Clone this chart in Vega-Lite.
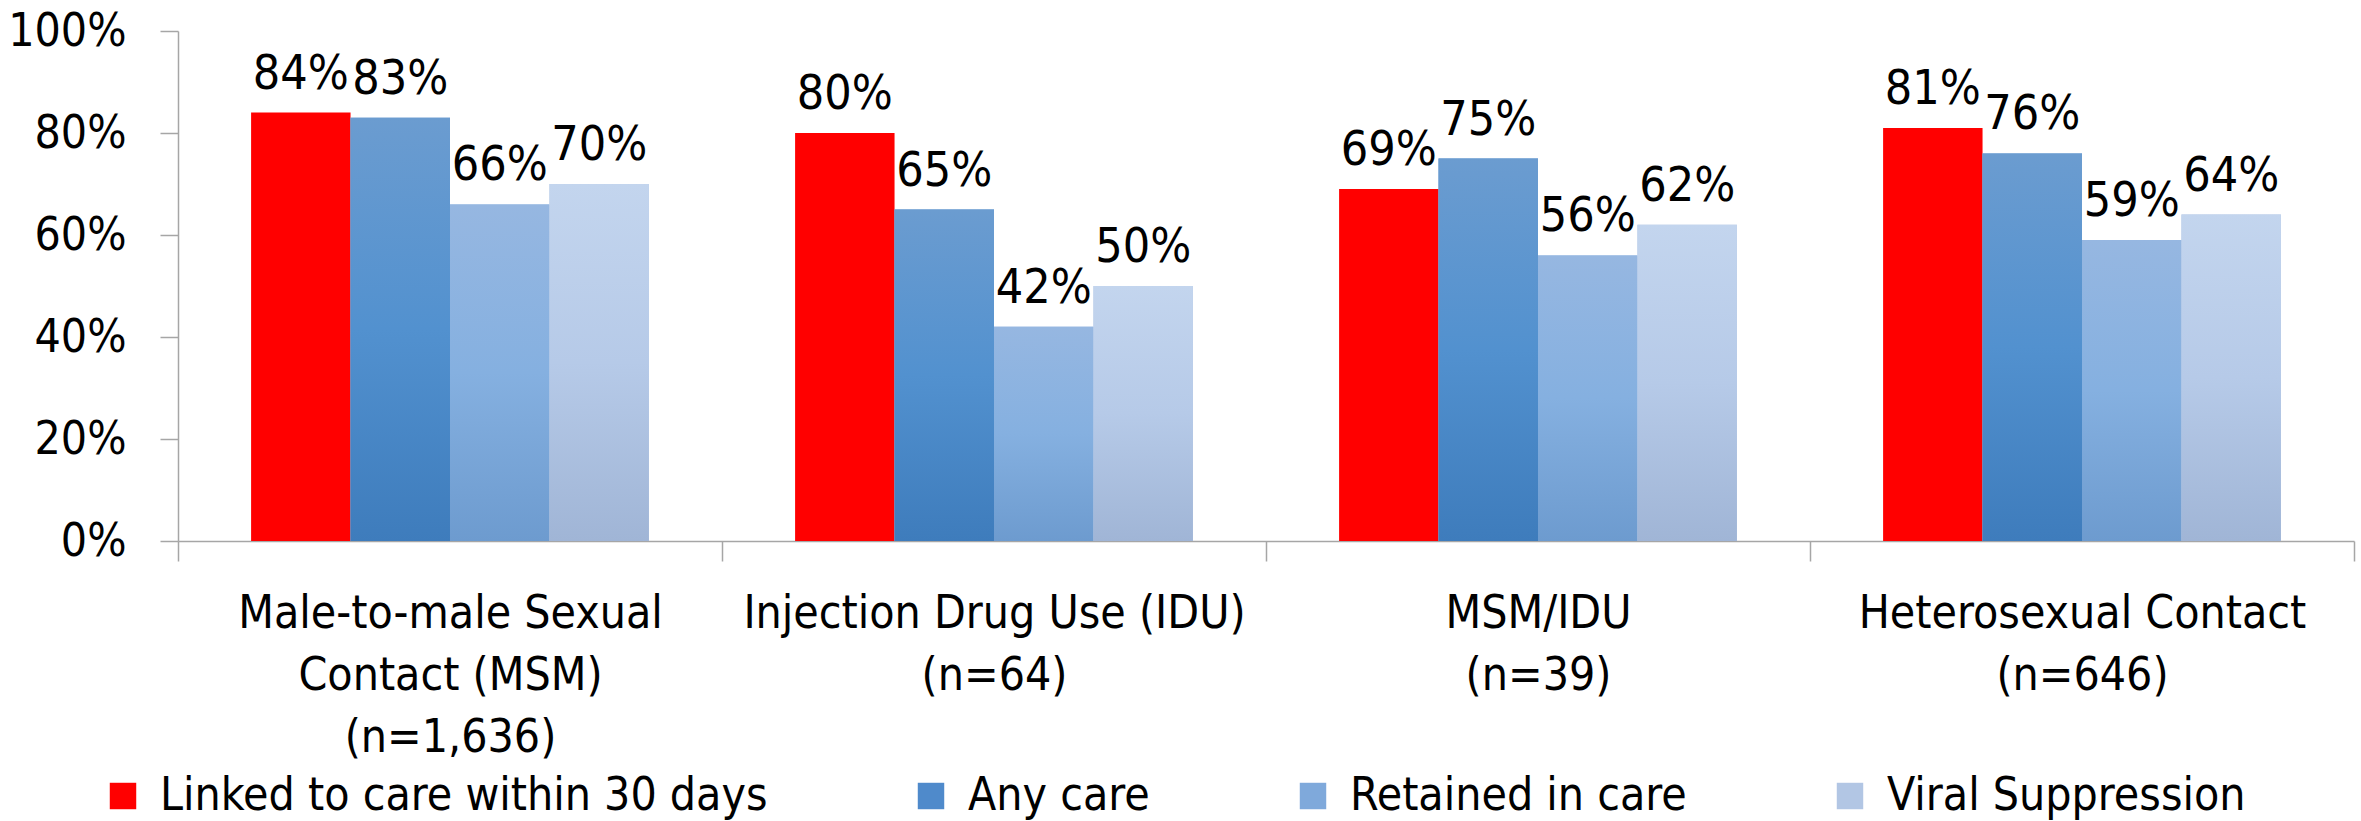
{
  "$schema": "https://vega.github.io/schema/vega-lite/v6.json",
  "width": 2176,
  "height": 510,
  "autosize": {"type": "none"},
  "padding": {"left": 178, "top": 31, "right": 7, "bottom": 280},
  "background": "white",
  "config": {
    "font": "'DejaVu Sans Condensed', 'Open Sans', sans-serif",
    "view": {"stroke": null}
  },
  "data": {
    "values": [
      {"group": "Male-to-male Sexual\nContact (MSM)\n(n=1,636)", "series": "Linked to care within 30 days", "value": 0.84},
      {"group": "Male-to-male Sexual\nContact (MSM)\n(n=1,636)", "series": "Any care", "value": 0.83},
      {"group": "Male-to-male Sexual\nContact (MSM)\n(n=1,636)", "series": "Retained in care", "value": 0.66},
      {"group": "Male-to-male Sexual\nContact (MSM)\n(n=1,636)", "series": "Viral Suppression", "value": 0.70},
      {"group": "Injection Drug Use (IDU)\n(n=64)", "series": "Linked to care within 30 days", "value": 0.80},
      {"group": "Injection Drug Use (IDU)\n(n=64)", "series": "Any care", "value": 0.65},
      {"group": "Injection Drug Use (IDU)\n(n=64)", "series": "Retained in care", "value": 0.42},
      {"group": "Injection Drug Use (IDU)\n(n=64)", "series": "Viral Suppression", "value": 0.50},
      {"group": "MSM/IDU\n(n=39)", "series": "Linked to care within 30 days", "value": 0.69},
      {"group": "MSM/IDU\n(n=39)", "series": "Any care", "value": 0.75},
      {"group": "MSM/IDU\n(n=39)", "series": "Retained in care", "value": 0.56},
      {"group": "MSM/IDU\n(n=39)", "series": "Viral Suppression", "value": 0.62},
      {"group": "Heterosexual Contact\n(n=646)", "series": "Linked to care within 30 days", "value": 0.81},
      {"group": "Heterosexual Contact\n(n=646)", "series": "Any care", "value": 0.76},
      {"group": "Heterosexual Contact\n(n=646)", "series": "Retained in care", "value": 0.59},
      {"group": "Heterosexual Contact\n(n=646)", "series": "Viral Suppression", "value": 0.64}
    ]
  },
  "encoding": {
    "x": {
      "field": "group",
      "type": "nominal",
      "sort": null,
      "scale": {"paddingInner": 0, "paddingOuter": 0},
      "axis": {
        "title": null,
        "labelAngle": 0,
        "tickBand": "extent",
        "tickSize": 20,
        "tickColor": "#A6A6A6",
        "domainColor": "#A6A6A6",
        "domainWidth": 1.5,
        "tickWidth": 1.5,
        "labelFontSize": 46,
        "labelColor": "#000000",
        "labelLineHeight": 62,
        "labelPadding": 30,
        "labelLimit": 0,
        "labelBaseline": "top",
        "labelExpr": "datum.value ? split(datum.value, '\\n') : ''"
      }
    },
    "xOffset": {
      "field": "series",
      "type": "nominal",
      "sort": ["Linked to care within 30 days", "Any care", "Retained in care", "Viral Suppression"],
      "scale": {"paddingInner": 0, "paddingOuter": 0.735}
    },
    "y": {
      "field": "value",
      "type": "quantitative",
      "scale": {"domain": [0, 1]},
      "axis": {
        "title": null,
        "grid": false,
        "values": [0, 0.2, 0.4, 0.6, 0.8, 1],
        "format": ".0%",
        "tickSize": 18,
        "tickColor": "#A6A6A6",
        "domainColor": "#A6A6A6",
        "domainWidth": 1.5,
        "tickWidth": 1.5,
        "labelPadding": 34,
        "labelFontSize": 46,
        "labelColor": "#000000"
      }
    }
  },
  "layer": [
    {
      "mark": {"type": "bar"},
      "encoding": {
        "color": {
          "field": "series",
          "type": "nominal",
          "scale": {
            "domain": ["Linked to care within 30 days", "Any care", "Retained in care", "Viral Suppression"],
            "range": ["#FF0000", "#4F8ACB", "#7FA9DB", "#B2C6E4"]
          },
          "legend": {
            "title": null,
            "orient": "none",
            "legendX": -78,
            "legendY": 742,
            "direction": "horizontal",
            "symbolType": "square",
            "symbolSize": 700,
            "symbolStrokeWidth": 0,
            "symbolOpacity": 1,
            "labelFontSize": 46,
            "labelColor": "#000000",
            "labelLimit": 0,
            "labelOffset": 14,
            "columnPadding": 140
          }
        }
      }
    },
    {
      "transform": [{"filter": "datum.series === 'Any care'"}],
      "mark": {
        "type": "bar",
        "color": {"gradient": "linear", "x1": 0, "y1": 0, "x2": 0, "y2": 1, "stops": [{"offset": 0, "color": "#6B9CD0"}, {"offset": 0.5, "color": "#5291CF"}, {"offset": 1, "color": "#3E7CBC"}]}
      }
    },
    {
      "transform": [{"filter": "datum.series === 'Retained in care'"}],
      "mark": {
        "type": "bar",
        "color": {"gradient": "linear", "x1": 0, "y1": 0, "x2": 0, "y2": 1, "stops": [{"offset": 0, "color": "#96B7E1"}, {"offset": 0.5, "color": "#85B0E0"}, {"offset": 1, "color": "#6D9BCF"}]}
      }
    },
    {
      "transform": [{"filter": "datum.series === 'Viral Suppression'"}],
      "mark": {
        "type": "bar",
        "color": {"gradient": "linear", "x1": 0, "y1": 0, "x2": 0, "y2": 1, "stops": [{"offset": 0, "color": "#C3D5EE"}, {"offset": 0.5, "color": "#B6CAE8"}, {"offset": 1, "color": "#A0B5D6"}]}
      }
    },
    {
      "mark": {"type": "text", "baseline": "bottom", "dy": -14, "fontSize": 48, "color": "#000000"},
      "encoding": {
        "text": {"field": "value", "type": "quantitative", "format": ".0%"}
      }
    }
  ]
}
